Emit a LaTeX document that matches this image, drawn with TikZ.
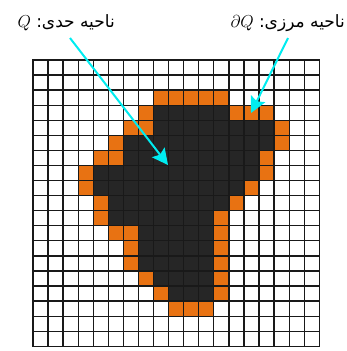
\documentclass[tikz,border=0pt]{standalone}
\usepackage{fontspec}
\newfontfamily\arabicfont[Script=Arabic]{DejaVu Sans}
\TeXXeTstate=1
\usetikzlibrary{arrows.meta}
\definecolor{cellorange}{RGB}{232,114,18}
\definecolor{celldark}{RGB}{38,38,38}
\definecolor{arrowcyan}{RGB}{0,236,240}
\definecolor{gridcol}{RGB}{25,25,25}
\begin{document}
\begin{tikzpicture}[x=1pt,y=-1pt,
  lbl/.style={inner sep=0pt,font=\fontsize{17}{20}\selectfont},
  gridline/.style={gridcol,line width=1.3pt},
  cyanarrow/.style={arrowcyan,line width=2pt,-{Stealth[length=16pt,width=16pt,inset=3pt]}}]
\useasboundingbox (0,0) rectangle (347,351);
\def\s{15.07}
% dark interior cells
\foreach \r/\a/\b in {3/8/12,4/8/15,5/6/15,6/6/14,7/4/14,8/4/13,9/5/12,10/5/11,11/7/11,12/7/11,13/7/11,14/8/11,15/9/11}
  \fill[celldark] ({33+\a*\s},{60+\r*\s}) rectangle ({33+(\b+1)*\s},{60+(\r+1)*\s});
% orange boundary cells
\foreach \r/\a/\b in {2/8/12,3/7/7,3/13/15,4/6/7,4/16/16,5/5/5,5/16/16,6/4/5,6/15/15,7/3/3,7/15/15,8/3/3,8/14/14,9/4/4,9/13/13,10/4/4,10/12/12,11/5/6,11/12/12,12/6/6,12/12/12,13/6/6,13/12/12,14/7/7,14/12/12,15/8/8,15/12/12,16/9/11}
  \fill[cellorange] ({33+\a*\s},{60+\r*\s}) rectangle ({33+(\b+1)*\s},{60+(\r+1)*\s});
% grid
\foreach \i in {0,...,19}{
  \draw[gridline] ({33+\i*\s},{60-0.65}) -- ({33+\i*\s},{60+19*\s+0.65});
  \draw[gridline] ({33-0.65},{60+\i*\s}) -- ({33+19*\s+0.65},{60+\i*\s});
}
% labels
\node[lbl,anchor=base east] (qlabel) at (115,27) {$Q$ {\arabicfont\beginR ناحیه حدی:\endR}};
\node[lbl,anchor=base east] (dqlabel) at (345,27) {$\partial Q$ {\arabicfont\beginR ناحیه مرزی:\endR}};
% arrows
\coordinate (qstart) at (70,38);
\coordinate (qtip) at (168,165);
\coordinate (dqstart) at (288,38);
\coordinate (dqtip) at (251,113);
\draw[cyanarrow] (qstart) -- (qtip);
\draw[cyanarrow] (dqstart) -- (dqtip);
\end{tikzpicture}
\end{document}
